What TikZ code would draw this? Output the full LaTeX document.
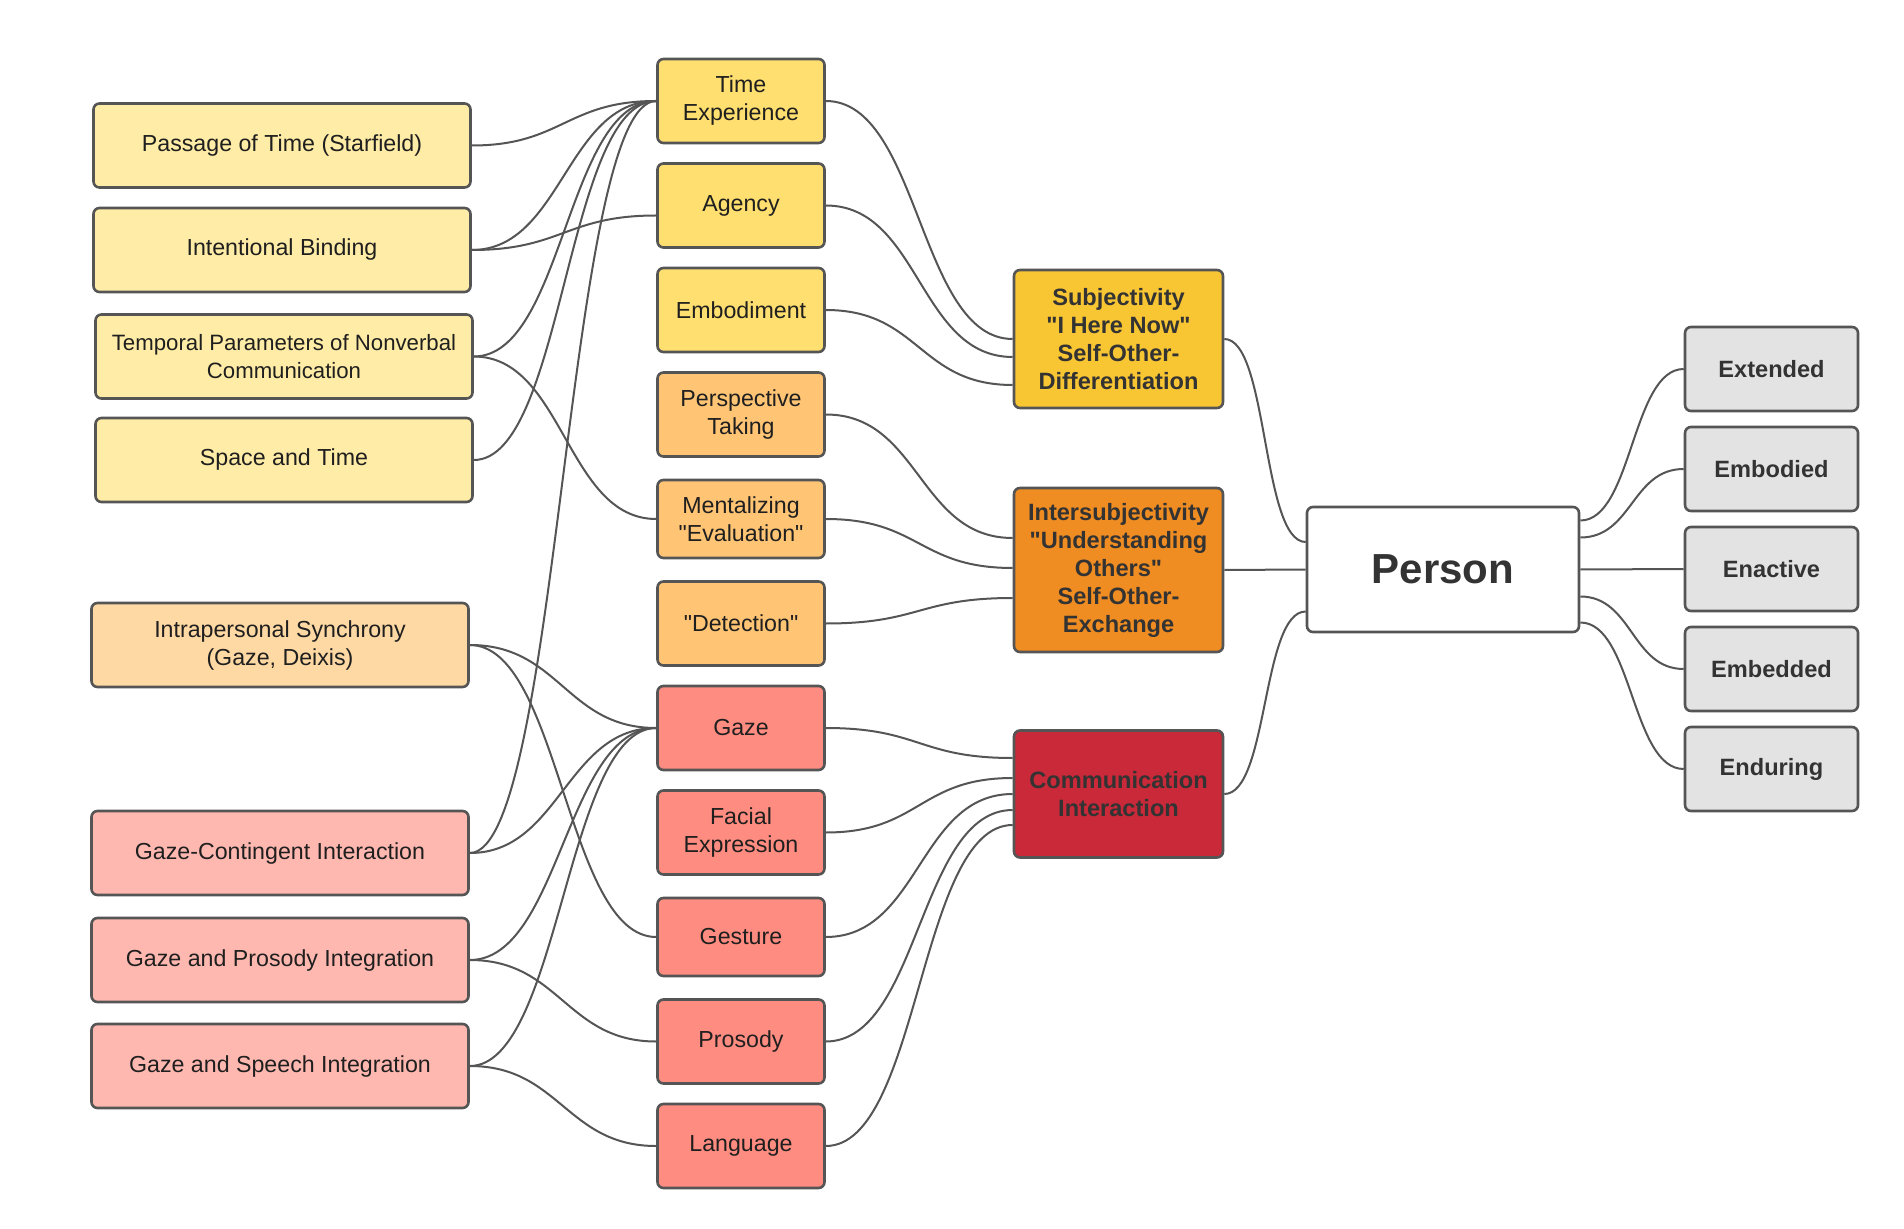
\documentclass[tikz,border=0pt]{standalone}
\usepackage{fontspec}
\setmainfont{Liberation Sans}[Ligatures=TeXOff]
\usepackage{xcolor}
\usepackage{tikz}
\usetikzlibrary{positioning}

\definecolor{paleyellow}{HTML}{FFECA6}
\definecolor{paleorange}{HTML}{FFD9A4}
\definecolor{palered}{HTML}{FFB8B0}
\definecolor{midyellow}{HTML}{FFDF6F}
\definecolor{midorange}{HTML}{FFC575}
\definecolor{midred}{HTML}{FF8C80}
\definecolor{subjcolor}{HTML}{F9C633}
\definecolor{intercolor}{HTML}{EF8C22}
\definecolor{commcolor}{HTML}{C92939}
\definecolor{aspectgray}{HTML}{E3E3E3}
\definecolor{edgegray}{HTML}{555555}

\begin{document}
\begin{tikzpicture}[x=0.5pt, y=-0.5pt, node distance=52.25pt,
  box/.style={rectangle, rounded corners=3pt, draw=edgegray, line width=1.3pt, align=center, inner sep=3pt, text=black!88, font=\fontsize{11.6}{14}\selectfont},
  study/.style={box, minimum width=188.5pt, minimum height=42pt},
  facet/.style={box, minimum width=83.5pt, minimum height=42pt},
  dimension/.style={box, minimum width=104.5pt, text=black!80, font=\fontsize{11.8}{14}\selectfont\bfseries},
  aspect/.style={box, minimum width=86.5pt, minimum height=42pt, fill=aspectgray, text=black!80, font=\fontsize{11.8}{14}\selectfont\bfseries},
  link/.style={draw=edgegray, line width=1pt},
  swoop/.style={out=0, in=180, distance=#1}]

\useasboundingbox (0,0) rectangle (1904,1229);

\node (passage) [study, fill=paleyellow] at (282,145.5) {Passage of Time (Starfield)};
\node (binding) [study, fill=paleyellow] at (282,250) {Intentional Binding};
\node (temporal) [study, fill=paleyellow, font=\fontsize{11.1}{14}\selectfont] at (284,356.5) {Temporal Parameters of Nonverbal\\Communication};
\node (spacetime) [study, fill=paleyellow] at (284,460) {Space and Time};
\node (synchrony) [study, fill=paleorange] at (280,645) {Intrapersonal Synchrony\\(Gaze, Deixis)};
\node (contingent) [study, fill=palered] at (280,853) {Gaze-Contingent Interaction};
\node (prosodyint) [study, fill=palered] at (280,960) {Gaze and Prosody Integration};
\node (speechint) [study, fill=palered] at (280,1066) {Gaze and Speech Integration};

\node (timeexp) [facet, fill=midyellow] at (741,101) {Time\\Experience};
\node (agency) [facet, fill=midyellow, below of=timeexp] {Agency};
\node (embodiment) [facet, fill=midyellow, below of=agency] {Embodiment};
\node (perspective) [facet, fill=midorange, below of=embodiment] {Perspective\\Taking};
\node (mentalizing) [facet, fill=midorange, below of=perspective, minimum height=39pt] {Mentalizing\\"Evaluation"};
\node (detection) [facet, fill=midorange, below of=mentalizing] {"Detection"};
\node (gaze) [facet, fill=midred, below of=detection] {Gaze};
\node (facial) [facet, fill=midred, below of=gaze] {Facial\\Expression};
\node (gesture) [facet, fill=midred, below of=facial, minimum height=39pt] {Gesture};
\node (prosody) [facet, fill=midred, below of=gesture] {Prosody};
\node (language) [facet, fill=midred, below of=prosody] {Language};

\node (subjectivity) [dimension, fill=subjcolor, minimum height=69pt] at (1118.5,339) {Subjectivity\\"I Here Now"\\Self-Other-\\Differentiation};
\node (intersubjectivity) [dimension, fill=intercolor, minimum height=82pt] at (1118.5,570) {Intersubjectivity\\"Understanding\\Others"\\Self-Other-\\Exchange};
\node (communication) [dimension, fill=commcolor, minimum height=63.5pt] at (1118.5,794) {Communication\\Interaction};

\node (person) [box, fill=white, minimum width=136pt, minimum height=62.5pt, text=black!80, font=\fontsize{21}{25}\selectfont\bfseries] at (1443,569.5) {Person};

\node (extended) [aspect] at (1771.5,369) {Extended};
\node (embodied) [aspect, node distance=50pt, below of=extended] {Embodied};
\node (enactive) [aspect, node distance=50pt, below of=embodied] {Enactive};
\node (embedded) [aspect, node distance=50pt, below of=enactive] {Embedded};
\node (enduring) [aspect, node distance=50pt, below of=embedded] {Enduring};

\draw[link] (passage.east) to[swoop=45pt] (timeexp.west);
\draw[link] (binding.east) to[swoop=45pt] (timeexp.west);
\draw[link] (binding.east) to[swoop=45pt] ([yshift=-5pt]agency.west);
\draw[link] (temporal.east) to[swoop=45pt] (timeexp.west);
\draw[link] (temporal.east) to[swoop=45pt] (mentalizing.west);
\draw[link] (spacetime.east) to[swoop=45pt] (timeexp.west);
\draw[link] (synchrony.east) to[swoop=45pt] (gaze.west);
\draw[link] (synchrony.east) to[swoop=45pt] (gesture.west);
\draw[link] (contingent.east) to[swoop=45pt] (timeexp.west);
\draw[link] (contingent.east) to[swoop=45pt] (gaze.west);
\draw[link] (prosodyint.east) to[swoop=45pt] (gaze.west);
\draw[link] (prosodyint.east) to[swoop=45pt] (prosody.west);
\draw[link] (speechint.east) to[swoop=45pt] (gaze.west);
\draw[link] (speechint.east) to[swoop=45pt] (language.west);

\draw[link] (timeexp.east) to[swoop=47pt] (subjectivity.west);
\draw[link] (agency.east) to[swoop=47pt] ([yshift=-9pt]subjectivity.west);
\draw[link] (embodiment.east) to[swoop=47pt] ([yshift=-23pt]subjectivity.west);
\draw[link] (perspective.east) to[swoop=47pt] ([yshift=16pt]intersubjectivity.west);
\draw[link] (mentalizing.east) to[swoop=47pt] ([yshift=1pt]intersubjectivity.west);
\draw[link] (detection.east) to[swoop=47pt] ([yshift=-14pt]intersubjectivity.west);
\draw[link] (gaze.east) to[swoop=47pt] ([yshift=18pt]communication.west);
\draw[link] (facial.east) to[swoop=47pt] ([yshift=8pt]communication.west);
\draw[link] (gesture.east) to[swoop=47pt] (communication.west);
\draw[link] (prosody.east) to[swoop=47pt] ([yshift=-8pt]communication.west);
\draw[link] (language.east) to[swoop=47pt] ([yshift=-15.5pt]communication.west);

\draw[link] (subjectivity.east) to[swoop=22pt] ([yshift=13.75pt]person.west);
\draw[link] (intersubjectivity.east) -- (person.west);
\draw[link] (communication.east) to[swoop=22pt] ([yshift=-21pt]person.west);

\draw[link] ([yshift=24.5pt]person.east) to[swoop=26pt] (extended.west);
\draw[link] ([yshift=16pt]person.east) to[swoop=26pt] (embodied.west);
\draw[link] (person.east) -- (enactive.west);
\draw[link] ([yshift=-13.5pt]person.east) to[swoop=26pt] (embedded.west);
\draw[link] ([yshift=-26.5pt]person.east) to[swoop=26pt] (enduring.west);

\end{tikzpicture}
\end{document}
